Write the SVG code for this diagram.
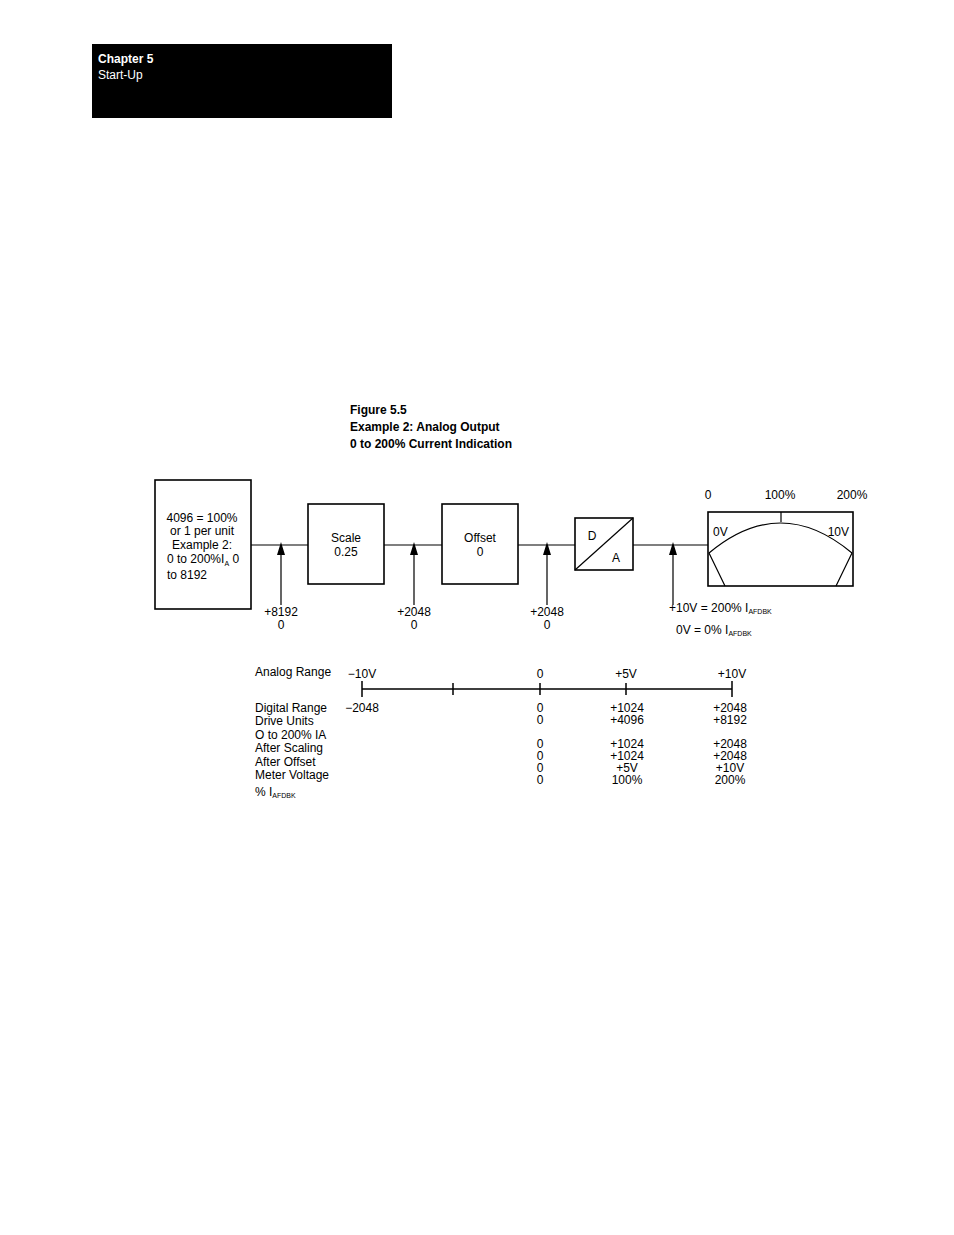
<svg xmlns="http://www.w3.org/2000/svg" width="954" height="1235" viewBox="0 0 954 1235">
<style>
text{font-family:"Liberation Sans Narrow","Liberation Sans",Arial,sans-serif;font-size:12px;fill:#000}
.b{font-weight:bold}
.m{text-anchor:middle}
.e{text-anchor:end}
.s{font-size:7px}
.box{fill:#fff;stroke:#000;stroke-width:1.6}
.ln{stroke:#000;stroke-width:1.2;fill:none}
</style>
<defs><marker id="ar" markerWidth="8" markerHeight="10" refX="4" refY="1" orient="auto-start-reverse" markerUnits="userSpaceOnUse"><path d="M0,10 L4,0 L8,10 Z" fill="#000" transform="rotate(0)"/></marker></defs>
<rect width="954" height="1235" fill="#fff"/>
<g id="header"><rect x="92" y="44" width="300" height="74" fill="#000"/>
<text x="98" y="63" class="b" style="fill:#fff">Chapter 5</text>
<text x="98" y="79" style="fill:#fff">Start-Up</text></g>
<g id="title"><text x="350" y="414" class="b">Figure 5.5</text>
<text x="350" y="431" class="b">Example 2: Analog Output</text>
<text x="350" y="448" class="b">0 to 200% Current Indication</text></g>
<g id="connectors">
<path class="ln" d="M251,545H308M384,545H442M518,545H575M633,545H708"/>
<path class="ln" d="M281,605V548M414,605V548M547,605V548M673,605V548"/>
<path d="M277,555L281,542L285,555ZM410,555L414,542L418,555ZM543,555L547,542L551,555ZM669,555L673,542L677,555Z"/>
</g>
<g id="source"><rect class="box" x="155" y="480" width="96" height="129"/>
<text x="202" y="522" class="m">4096 = 100%</text>
<text x="202" y="535" class="m">or 1 per unit</text>
<text x="202" y="549" class="m">Example 2:</text>
<text x="167" y="563">0 to 200%I<tspan class="s" dy="3">A</tspan><tspan dy="-3"> 0</tspan></text>
<text x="167" y="579">to 8192</text></g>
<g id="scale"><rect class="box" x="308" y="504" width="76" height="80"/>
<text x="346" y="542" class="m">Scale</text><text x="346" y="556" class="m">0.25</text></g>
<g id="offset"><rect class="box" x="442" y="504" width="76" height="80"/>
<text x="480" y="542" class="m">Offset</text><text x="480" y="556" class="m">0</text></g>
<g id="da"><rect class="box" x="575" y="518" width="58" height="52"/>
<path class="ln" d="M575,570L633,518"/>
<text x="592" y="540" class="m">D</text><text x="616" y="562" class="m">A</text></g>
<g id="meter"><rect class="box" x="708" y="512" width="145" height="74"/>
<path class="ln" d="M709,553Q780.5,493 852,553M709,553L725,586M852,553L836,586M781,512V522"/>
<text x="708" y="499" class="m">0</text><text x="780" y="499" class="m">100%</text><text x="852" y="499" class="m">200%</text>
<text x="713" y="536">0V</text><text x="849" y="536" class="e">10V</text></g>
<g id="labels">
<text x="281" y="616" class="m">+8192</text><text x="281" y="629" class="m">0</text>
<text x="414" y="616" class="m">+2048</text><text x="414" y="629" class="m">0</text>
<text x="547" y="616" class="m">+2048</text><text x="547" y="629" class="m">0</text>
<text x="669" y="612">+10V = 200% I<tspan class="s" dy="2">AFDBK</tspan></text>
<text x="676" y="634">0V = 0% I<tspan class="s" dy="2">AFDBK</tspan></text>
</g>
<g id="axis">
<path class="ln" d="M362,689H732M362,681V697M453,683V695M540,683V695M626,683V695M732,681V697" style="stroke-width:1.5"/>
<text x="255" y="676">Analog Range</text>
<text x="362" y="678" class="m">−10V</text><text x="540" y="678" class="m">0</text><text x="626" y="678" class="m">+5V</text><text x="732" y="678" class="m">+10V</text>
<text x="255" y="712">Digital Range</text><text x="255" y="725">Drive Units</text><text x="255" y="739">O to 200% IA</text>
<text x="255" y="752">After Scaling</text><text x="255" y="766">After Offset</text><text x="255" y="779">Meter Voltage</text>
<text x="255" y="796">% I<tspan class="s" dy="2">AFDBK</tspan></text>
<text x="362" y="712" class="m">−2048</text>
<g class="m">
<text x="540" y="712" class="m">0</text><text x="540" y="724" class="m">0</text><text x="540" y="748" class="m">0</text><text x="540" y="760" class="m">0</text><text x="540" y="772" class="m">0</text><text x="540" y="784" class="m">0</text>
<text x="627" y="712" class="m">+1024</text><text x="627" y="724" class="m">+4096</text><text x="627" y="748" class="m">+1024</text><text x="627" y="760" class="m">+1024</text><text x="627" y="772" class="m">+5V</text><text x="627" y="784" class="m">100%</text>
<text x="730" y="712" class="m">+2048</text><text x="730" y="724" class="m">+8192</text><text x="730" y="748" class="m">+2048</text><text x="730" y="760" class="m">+2048</text><text x="730" y="772" class="m">+10V</text><text x="730" y="784" class="m">200%</text>
</g></g>
</svg>
